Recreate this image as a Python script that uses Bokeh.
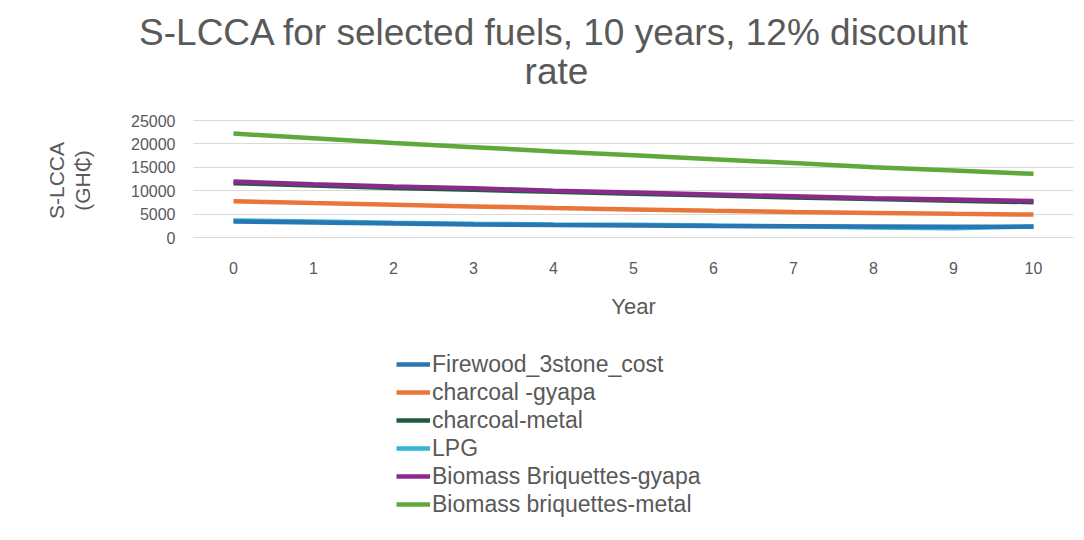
from bokeh.plotting import figure
from bokeh.models import Label, Legend, LegendItem, FixedTicker, Range1d, LinearAxis
from bokeh.embed import file_html
from bokeh.resources import INLINE

years = list(range(0, 11))
firewood = [3400, 3200, 3000, 2800, 2650, 2550, 2450, 2400, 2350, 2300, 2300]
charcoal_gyapa = [7750, 7350, 7000, 6650, 6300, 6000, 5700, 5450, 5250, 5050, 4900]
charcoal_metal = [11600, 11100, 10600, 10200, 9750, 9350, 8950, 8550, 8200, 7850, 7550]
lpg = [3650, 3400, 3150, 2950, 2800, 2700, 2550, 2400, 2150, 2000, 2400]
briq_gyapa = [11950, 11400, 10900, 10500, 10000, 9600, 9200, 8800, 8400, 8100, 7800]
briq_metal = [22200, 21200, 20200, 19300, 18400, 17600, 16700, 15900, 15000, 14300, 13600]

names = ["Firewood_3stone_cost", "charcoal -gyapa", "charcoal-metal", "LPG",
         "Biomass Briquettes-gyapa", "Biomass briquettes-metal"]
colors = ["#2877B3", "#E8763A", "#1E5B3F", "#35B5D3", "#8A2B8C", "#5FA93B"]
y_ticks = [0, 5000, 10000, 15000, 20000, 25000]
title_lines = ["S-LCCA for selected fuels, 10 years, 12% discount", "rate"]
y_label_lines = ["S-LCCA", "(GH\u20b5)"]
x_label = "Year"

FONT = "Liberation Sans"
GRAY = "#595959"

# layout of the plotting area inside the 1084x540 canvas (pixels)
W, H = 1084, 540
L, R, T, B = 193, 1073, 120, 237
X0, X1 = -0.5, 10.5
Y0, Y1 = 0, 25000
xpp = (X1 - X0) / (R - L)
ypp = (Y1 - Y0) / (B - T)

p = figure(width=W, height=H, output_backend="svg", toolbar_location=None,
           x_range=Range1d(X0 - L * xpp, X1 + (W - R) * xpp),
           y_range=Range1d(Y0 - (H - B) * ypp, Y1 + T * ypp),
           x_axis_location=None, y_axis_location=None,
           min_border=0, min_border_left=0, min_border_right=0,
           min_border_top=0, min_border_bottom=0)
p.outline_line_color = None
p.background_fill_color = "white"
p.border_fill_color = "white"

xaxis = LinearAxis(ticker=FixedTicker(ticks=years), fixed_location=Y0, bounds=(X0, X1))
yaxis = LinearAxis(ticker=FixedTicker(ticks=y_ticks), fixed_location=X0, bounds=(Y0, Y1))
for ax in (xaxis, yaxis):
    ax.major_tick_line_color = None
    ax.minor_tick_line_color = None
    ax.axis_line_color = None
    ax.major_label_text_font = FONT
    ax.major_label_text_font_size = "16px"
    ax.major_label_text_color = GRAY
xaxis.major_label_standoff = 18
yaxis.major_label_standoff = 12
p.add_layout(xaxis, "below")
p.add_layout(yaxis, "left")

p.xgrid.visible = False
grid_ok = False
try:
    p.ygrid.cross_bounds = (X0, X1)
    p.ygrid.ticker = FixedTicker(ticks=y_ticks)
    p.ygrid.grid_line_color = "#d9d9d9"
    p.ygrid.grid_line_width = 1
    grid_ok = True
except Exception:
    grid_ok = False
if not grid_ok:
    p.ygrid.visible = False
    p.segment(x0=[X0] * len(y_ticks), x1=[X1] * len(y_ticks), y0=y_ticks, y1=y_ticks,
              line_color="#d9d9d9", line_width=1)

series = [firewood, charcoal_gyapa, charcoal_metal, lpg, briq_gyapa, briq_metal]
renderers = {}
draw_order = [1, 2, 3, 0, 4, 5]
for i in draw_order:
    renderers[i] = p.line(years, series[i], line_color=colors[i], line_width=4.5)

legend = Legend(items=[LegendItem(label=names[i], renderers=[renderers[i]]) for i in range(6)],
                location=(396, H - 518), orientation="vertical",
                label_text_font=FONT, label_text_font_size="23px", label_text_color=GRAY,
                glyph_width=34, glyph_height=28, label_height=28, label_standoff=2,
                spacing=0, padding=0, margin=0, border_line_color=None,
                background_fill_alpha=0)
p.add_layout(legend, "center")


def lab(text, X, Y, size, angle=0.0):
    p.add_layout(Label(x=X, y=H - Y, x_units="screen", y_units="screen", text=text,
                       text_align="center", text_baseline="middle", angle=angle,
                       text_font=FONT, text_font_size=size, text_color=GRAY))


lab(title_lines[0], 554, 32, "37px")
lab(title_lines[1], 556, 71, "37px")
lab(y_label_lines[0], 56, 180, "21px", angle=1.5708)
lab(y_label_lines[1], 82, 180, "21px", angle=1.5708)
lab(x_label, 633, 306, "22px")

open("out.html", "w").write(file_html(p, INLINE))
